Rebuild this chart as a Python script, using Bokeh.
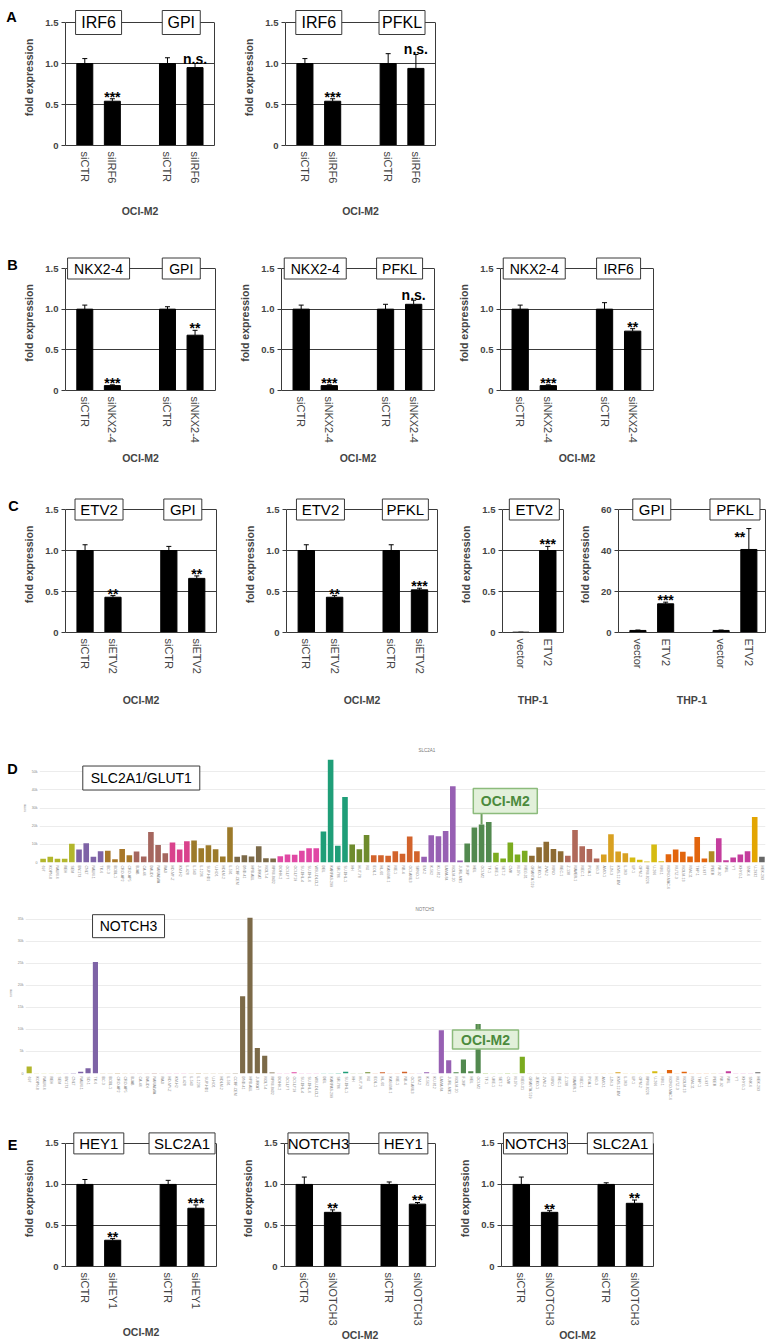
from bokeh.plotting import figure
from bokeh.layouts import row, column
from bokeh.models import (Range1d, FactorRange, FixedTicker, LinearAxis, ColumnDataSource,
                          Whisker, TeeHead, NumeralTickFormatter)
from bokeh.core.properties import value
from bokeh.embed import file_html
from bokeh.resources import INLINE

FONT = "Liberation Sans"

# ============================ DATA ============================
# Panel A (OCI-M2)
a1_labels = ["siCTR", "siIRF6", "siCTR", "siIRF6"]
a1_values = [1.00, 0.54, 1.00, 0.95]
a1_errors = [0.06, 0.03, 0.07, 0.05]
a1_signif = ["", "***", "", "n.s."]
a1_genes = ["IRF6", "GPI"]

a2_labels = ["siCTR", "siIRF6", "siCTR", "siIRF6"]
a2_values = [1.00, 0.54, 1.00, 0.94]
a2_errors = [0.06, 0.03, 0.12, 0.17]
a2_signif = ["", "***", "", "n.s."]
a2_genes = ["IRF6", "PFKL"]

# Panel B (OCI-M2)
b_labels = ["siCTR", "siNKX2-4", "siCTR", "siNKX2-4"]
b1_values = [1.00, 0.06, 1.00, 0.68]
b1_errors = [0.05, 0.01, 0.03, 0.06]
b1_signif = ["", "***", "", "**"]
b1_genes = ["NKX2-4", "GPI"]

b2_values = [1.00, 0.06, 1.00, 1.06]
b2_errors = [0.05, 0.01, 0.06, 0.05]
b2_signif = ["", "***", "", "n.s."]
b2_genes = ["NKX2-4", "PFKL"]

b3_values = [1.00, 0.06, 1.00, 0.73]
b3_errors = [0.05, 0.01, 0.08, 0.03]
b3_signif = ["", "***", "", "**"]
b3_genes = ["NKX2-4", "IRF6"]

# Panel C
c_labels = ["siCTR", "siETV2", "siCTR", "siETV2"]
c1_values = [1.00, 0.43, 1.00, 0.66]
c1_errors = [0.07, 0.02, 0.05, 0.03]
c1_signif = ["", "**", "", "**"]
c1_genes = ["ETV2", "GPI"]

c2_values = [1.00, 0.43, 1.00, 0.52]
c2_errors = [0.07, 0.02, 0.07, 0.02]
c2_signif = ["", "**", "", "***"]
c2_genes = ["ETV2", "PFKL"]

c3_labels = ["vector", "ETV2"]
c3_values = [0.004, 1.00]
c3_errors = [0.0, 0.05]
c3_signif = ["", "***"]
c3_genes = ["ETV2"]

c4_labels = ["vector", "ETV2", "vector", "ETV2"]
c4_values = [1.0, 14.0, 1.0, 40.5]
c4_errors = [0.2, 0.8, 0.2, 10.2]
c4_signif = ["", "***", "", "**"]
c4_genes = ["GPI", "PFKL"]

# Panel E (OCI-M2)
e1_labels = ["siCTR", "siHEY1", "siCTR", "siHEY1"]
e1_values = [1.00, 0.32, 1.00, 0.71]
e1_errors = [0.06, 0.02, 0.05, 0.04]
e1_signif = ["", "**", "", "***"]
e1_genes = ["HEY1", "SLC2A1"]

e_labels = ["siCTR", "siNOTCH3", "siCTR", "siNOTCH3"]
e2_values = [1.00, 0.66, 1.00, 0.76]
e2_errors = [0.09, 0.03, 0.03, 0.02]
e2_signif = ["", "**", "", "**"]
e2_genes = ["NOTCH3", "HEY1"]

e3_values = [1.00, 0.66, 1.00, 0.77]
e3_errors = [0.09, 0.02, 0.02, 0.04]
e3_signif = ["", "**", "", "**"]
e3_genes = ["NOTCH3", "SLC2A1"]

# Panel D: LL-100 expression (norm)
slc_lines = [
    "697", "KOPN-8", "NALM-6", "REH", "SEM",
    "BV-173", "CNLT", "NALM-1", "TK-6",
    "BC-3", "BCBL-1", "CRO-AP2", "CRO-AP5",
    "BJAB", "CA-46", "DAUDI", "NAMALWA", "RAJI",
    "HD-MY-Z", "KM-H2", "L-428",
    "L-540", "L-1236", "SUP-HD1", "U-HO1", "HDLM-2", "L-591",
    "CCRF-CEM", "DND-41", "HPB-ALL", "JURKAT", "MOLT-4", "RPMI-8402",
    "DOHH-2", "OCI-LY7", "OCI-LY19", "SU-DHL-4", "SU-DHL-6", "WSU-DLCL2",
    "DEL", "KARPAS-299", "SR-786", "SU-DHL-1",
    "HH", "HUT-78", "MJ",
    "EOL-1", "HL-60", "KASUMI-1", "ME-1", "NB-4", "OCI-AML3", "SKNO-1",
    "EM-2", "K-562", "KU-812", "LAMA-84", "MOLM-20", "JURL-MK1",
    "F-36P", "HEL", "OCI-M2", "TF-1",
    "UKE-1", "SET-2", "CMK", "M-07e", "MEG-01",
    "GRANTA-519", "JEKO-1", "JVM-2", "MINO", "REC-1",
    "Z-138", "MAVER-1", "MEC-1", "PGA-1", "HG-3",
    "AMO-1", "JJN-3", "KMS-12-BM", "L-363",
    "LP-1", "OPM-2", "RPMI-8226", "U-266", "MM-1",
    "MONO-MAC-6", "MUTZ-3", "MOLM-13", "MV4-11", "THP-1", "U-937",
    "PEER",
    "NK-92", "NKL", "YT", "KHYG-1", "SNK-6",
    "U-2932",
    "HEK-293",
]
slc_values = [
    2000, 3100, 2000, 2000, 10300,
    7100, 10600, 3100, 6200,
    6400, 1800, 7500, 4000,
    6000, 3300, 16800, 9700, 5100,
    11000, 7100, 11700,
    12100, 7900, 9500, 7300, 3300, 19400,
    3100, 4000, 3300, 9000, 2400, 2200,
    3500, 4400, 4200, 6400, 7900, 7900,
    17000, 56600, 9200, 36000,
    9900, 7300, 15200,
    4000, 4000, 3700, 6200, 4800, 14300, 6200,
    3100, 15000, 14500, 17400, 42000, 1100,
    10400, 19200, 20900, 22300,
    5300, 2200, 11000, 4400, 6400,
    3700, 8400, 11400, 7500, 6200,
    3700, 17900, 9000, 7500, 2200,
    4400, 15600, 6000, 5100,
    2700, 1500, 500, 9900, 700,
    4600, 7100, 5900, 3300, 14100, 2200,
    6200,
    13400, 1300, 2700, 4400, 6200,
    25100,
    3100,
]
slc_group_sizes = [5, 4, 4, 5, 3, 6, 6, 6, 4, 3, 7, 6, 4, 5, 5, 5, 4, 5, 6, 1, 5, 1, 1]

notch_lines = [
    "697", "KOPN-8", "NALM-6", "REH", "SEM",
    "BV-173", "CNLT", "NALM-1", "SD-1", "TK-6",
    "BC-3", "BCBL-1", "CRO-AP2", "CRO-AP5",
    "BJAB", "CA-46", "DAUDI", "NAMALWA", "RAJI",
    "HD-MY-Z", "KM-H2", "L-428",
    "L-540", "L-1236", "SUP-HD1", "U-HO1", "HDLM-2", "L-591",
    "CCRF-CEM", "DND-41", "HPB-ALL", "JURKAT", "MOLT-4", "RPMI-8402",
    "DOHH-2", "OCI-LY7", "OCI-LY19", "SU-DHL-4", "SU-DHL-6", "WSU-DLCL2",
    "DEL", "KARPAS-299", "SR-786", "SU-DHL-1",
    "HH", "HUT-78", "MJ",
    "EOL-1", "HL-60", "KASUMI-1", "ME-1", "NB-4", "OCI-AML3",
    "EM-2", "K-562", "KU-812", "LAMA-84", "JURL-MK1",
    "MOLM-20", "F-36P", "HEL", "OCI-M2",
    "TF-1", "UKE-1", "SET-2", "CMK", "M-07e", "MEG-01",
    "GRANTA-519", "JEKO-1", "JVM-2", "MINO", "REC-1",
    "Z-138", "MAVER-1", "MEC-1", "PGA-1", "HG-3",
    "AMO-1", "JJN-3", "KMS-12-BM", "L-363",
    "LP-1", "OPM-2", "RPMI-8226", "U-266", "MM-1",
    "MONO-MAC-6", "MUTZ-3", "MOLM-13", "MV4-11", "THP-1", "U-937",
    "PEER",
    "NK-92", "NKL", "YT", "KHYG-1", "SNK-6",
    "HEK-293",
]
notch_values = [
    1600, 60, 50, 60, 50,
    50, 100, 400, 1200, 25300,
    80, 60, 100, 50,
    60, 80, 50, 100, 60,
    50, 80, 60,
    50, 100, 60, 80, 50, 60,
    100, 17500, 35300, 5800, 4000, 200,
    60, 50, 300, 60, 80, 50,
    60, 50, 100, 400,
    60, 80, 300,
    60, 300, 50, 60, 400, 60,
    50, 300, 60, 9800, 3000,
    300, 3200, 500, 11200,
    100, 80, 60, 100, 80, 3800,
    60, 50, 80, 60, 100,
    60, 80, 50, 60, 80,
    60, 80, 300, 60,
    60, 80, 60, 500, 60,
    800, 60, 400, 60, 80, 60,
    80,
    60, 500, 80, 60, 60,
    300,
]
notch_group_sizes = [5, 5, 4, 5, 3, 6, 6, 6, 4, 3, 6, 5, 4, 6, 5, 5, 4, 5, 6, 1, 5, 1]

# ============================ STYLE ============================
slc_group_colors = ["#b2b62c", "#7e63a6", "#a8782a", "#a5665e", "#d9428c", "#9c7a2a",
                    "#7c6a48", "#e048a4", "#1f9e78", "#6e8b2d", "#d2632b", "#9760b3",
                    "#52894f", "#7bab1f", "#8d6b32", "#b0695a", "#d8a021", "#d6bb12",
                    "#e2650d", "#b08a22", "#c43d9d", "#e3a502", "#666666"]
notch_group_colors = ["#b2b62c", "#7e63a6", "#a8782a", "#a5665e", "#d9428c", "#9c7a2a",
                      "#7c6a48", "#e048a4", "#1f9e78", "#6e8b2d", "#d2632b", "#9760b3",
                      "#52894f", "#7bab1f", "#8d6b32", "#b0695a", "#d8a021", "#d6bb12",
                      "#e2650d", "#b08a22", "#c43d9d", "#666666"]

POS4 = [0.7, 1.7, 3.7, 4.7]
POS2 = [0.65, 1.6]
GROUPS4 = [[0, 1], [2, 3]]
GROUPS2 = [[0, 1]]
PX_PER_UNIT_X = 28.3
PAD = 13
LINE = "#3a3a3a"
YT15 = [0, 0.5, 1.0, 1.5]
YT15_TXT = ["0", "0.5", "1.0", "1.5"]
LETTER_W = 20


def expand(colors, sizes):
    out = []
    for c, n in zip(colors, sizes):
        out += [c] * n
    return out


def base_fig(W, H, xr, yr, L, R, T, B):
    return figure(width=W, height=H, x_range=xr, y_range=yr,
                  min_border_left=L, min_border_right=R, min_border_top=T,
                  min_border_bottom=B, output_backend="svg", toolbar_location=None,
                  tools="", outline_line_color=None, background_fill_color="white",
                  border_fill_color="white")


def letter_fig(txt, width, row_top, row_h, lx, ly):
    p = figure(width=width, height=row_h, x_range=Range1d(0, width),
               y_range=Range1d(0, row_h), min_border=0, output_backend="svg",
               toolbar_location=None, tools="", outline_line_color=None,
               x_axis_location=None, y_axis_location=None,
               background_fill_color="white", border_fill_color="white")
    p.grid.visible = False
    p.text(x=[lx], y=[row_h - (ly - row_top)], text=[txt], text_font=value(FONT),
           text_font_style="bold", text_font_size="14.5px", text_align="center",
           text_baseline="middle", text_color="black")
    return p


def bar_panel(labels, values, errors, signif, genes, xlabel, *, fig_left, fig_right,
              axis_x, frame_right, row_top, row_h, y_top, y_zero, yticks, ytext,
              positions, groups, box_w, box_h, gene_size, xlab_standoff,
              sig_override=None):
    W = fig_right - fig_left
    L = axis_x - fig_left
    fw = frame_right - axis_x
    R = W - L - fw
    span = y_zero - y_top
    ymax = yticks[-1]
    ppu = span / ymax
    fh = span + PAD
    T = y_top - PAD - row_top
    B = row_h - T - fh
    xr = fw / PX_PER_UNIT_X
    p = base_fig(W, row_h, Range1d(0, xr), Range1d(0, ymax + PAD / ppu), L, R, T, B)
    p.xgrid.visible = False
    p.ygrid.ticker = FixedTicker(ticks=[t for t in yticks if t > 0])
    p.ygrid.grid_line_color = LINE
    p.ygrid.grid_line_width = 1

    ya = p.yaxis[0]
    ya.ticker = FixedTicker(ticks=yticks)
    ya.bounds = (0, ymax)
    ya.major_label_overrides = {t: s for t, s in zip(yticks, ytext)}
    ya.major_tick_out = 4
    ya.major_tick_in = 0
    ya.minor_tick_line_color = None
    ya.axis_line_color = LINE
    ya.major_tick_line_color = LINE
    ya.major_label_text_font = FONT
    ya.major_label_text_font_style = "bold"
    ya.major_label_text_font_size = "9.5px"
    ya.major_label_standoff = 3
    ya.axis_label = "fold expression"
    ya.axis_label_text_font = FONT
    ya.axis_label_text_font_style = "bold"
    ya.axis_label_text_font_size = "10.5px"
    ya.axis_label_standoff = 7

    ra = LinearAxis(ticker=FixedTicker(ticks=[]), bounds=(0, ymax),
                    major_tick_line_color=None, minor_tick_line_color=None,
                    major_label_text_font_size="0px", axis_line_color=LINE,
                    major_tick_out=0, major_tick_in=0, major_label_standoff=0)
    p.add_layout(ra, "right")

    xa = p.xaxis[0]
    xa.ticker = FixedTicker(ticks=positions)
    xa.major_label_overrides = {x: s for x, s in zip(positions, labels)}
    xa.major_label_orientation = "vertical"
    xa.major_tick_line_color = None
    xa.major_tick_out = 0
    xa.major_tick_in = 0
    xa.minor_tick_line_color = None
    xa.axis_line_color = LINE
    xa.major_label_text_font = FONT
    xa.major_label_text_font_size = "11px"
    xa.major_label_standoff = 6
    xa.axis_label = xlabel
    xa.axis_label_text_font = FONT
    xa.axis_label_text_font_style = "bold"
    xa.axis_label_text_font_size = "10.5px"
    xa.axis_label_standoff = xlab_standoff

    upper = [v + e for v, e in zip(values, errors)]
    sig_y = list(upper)
    sig_dx = [0] * len(values)
    sig_dy = [-5 if s == "n.s." else -2 for s in signif]
    if sig_override:
        for i, (yy, dx) in sig_override.items():
            sig_y[i] = yy
            sig_dx[i] = dx
    src = ColumnDataSource(dict(x=positions, value=values, upper=upper, sig=signif,
                                sig_y=sig_y, sig_dx=sig_dx, sig_dy=sig_dy))
    p.vbar(x="x", top="value", width=0.58, source=src, fill_color="black", line_color="black")
    p.add_layout(Whisker(source=src, base="x", upper="upper", lower="value",
                         line_color="black", line_width=1,
                         upper_head=TeeHead(size=5, line_color="black", line_width=1),
                         lower_head=None))
    p.text(x="x", y="sig_y", text="sig", x_offset="sig_dx", y_offset="sig_dy", source=src,
           text_font=value(FONT), text_font_style="bold", text_font_size="14px",
           text_align="center", text_baseline="alphabetic", text_color="black")

    centers = [sum(positions[i] for i in g) / len(g) for g in groups]
    gy = [ymax] * len(genes)
    p.rect(x=centers, y=gy, width=box_w, height=box_h, width_units="screen",
           height_units="screen", fill_color="white", line_color=LINE, line_width=1)
    p.text(x=centers, y=gy, text=genes, text_font=value(FONT), text_font_size=gene_size,
           text_align="center", text_baseline="middle", text_color="black")
    return p


def expr_panel(names, vals, colors, *, title, title_offset, W, row_h, L, fw, T, fh, ymax,
               yticks, bar_w, gene_text, gene_box, oci):
    R = W - L - fw
    B = row_h - T - fh
    p = base_fig(W, row_h, FactorRange(*names), Range1d(0, ymax), L, R, T, B)
    p.title.text = title
    p.title.text_font = FONT
    p.title.text_font_size = "4.5px"
    p.title.text_font_style = "normal"
    p.title.text_color = "#777777"
    p.title.align = "left"
    p.title.offset = title_offset
    p.title.standoff = 2

    p.xgrid.visible = False
    p.ygrid.ticker = FixedTicker(ticks=yticks)
    p.ygrid.grid_line_color = "#ececec"

    ya = p.yaxis[0]
    ya.ticker = FixedTicker(ticks=yticks)
    ya.formatter = NumeralTickFormatter(format="0a")
    ya.axis_line_color = None
    ya.major_tick_line_color = None
    ya.minor_tick_line_color = None
    ya.major_tick_out = 0
    ya.major_tick_in = 0
    ya.major_label_text_font = FONT
    ya.major_label_text_font_size = "3.6px"
    ya.major_label_text_color = "#888888"
    ya.major_label_standoff = 2
    ya.axis_label = "norm"
    ya.axis_label_text_font = FONT
    ya.axis_label_text_font_size = "3.6px"
    ya.axis_label_text_font_style = "normal"
    ya.axis_label_text_color = "#888888"
    ya.axis_label_standoff = 2

    xa = p.xaxis[0]
    xa.axis_line_color = None
    xa.major_tick_line_color = None
    xa.minor_tick_line_color = None
    xa.major_tick_out = 0
    xa.major_tick_in = 0
    xa.major_label_orientation = "vertical"
    xa.major_label_text_font = FONT
    xa.major_label_text_font_size = "3.6px"
    xa.major_label_text_color = "#888888"
    xa.major_label_standoff = 3

    src = ColumnDataSource(dict(x=names, top=vals, color=colors))
    p.vbar(x="x", top="top", width=bar_w, source=src, fill_color="color", line_color=None)

    # cell-line callout
    oi = names.index("OCI-M2")
    ox = oi + 0.5
    obox_dx, obox_y, obox_w, obox_h = oci
    p.segment(x0=[ox], y0=[vals[oi]], x1=[ox], y1=[obox_y], line_color="#6e9e5e", line_width=2)
    p.rect(x=[ox + obox_dx], y=[obox_y], width=obox_w, height=obox_h, width_units="screen",
           height_units="screen", fill_color="#e2f0da", line_color="#8cbb7c", line_width=1.5)
    p.text(x=[ox + obox_dx], y=[obox_y], text=["OCI-M2"], text_font=value(FONT),
           text_font_style="bold", text_font_size="14px", text_color="#4b8a3d",
           text_align="center", text_baseline="middle")

    gx, gy, gw, gh = gene_box
    p.rect(x=[gx], y=[gy], width=gw, height=gh, width_units="screen", height_units="screen",
           fill_color="white", line_color=LINE, line_width=1)
    p.text(x=[gx], y=[gy], text=[gene_text], text_font=value(FONT), text_font_size="14px",
           text_align="center", text_baseline="middle", text_color="black")
    return p


# ============================ ROWS ============================
# Row A: page y 0-240
rA = dict(row_top=0, row_h=240, y_top=22, y_zero=145, yticks=YT15, ytext=YT15_TXT,
          positions=POS4, groups=GROUPS4, box_h=24, gene_size="16px", xlab_standoff=19)
la = letter_fig("A", LETTER_W, 0, 240, 11, 14)
a1 = bar_panel(a1_labels, a1_values, a1_errors, a1_signif, a1_genes, "OCI-M2",
               fig_left=LETTER_W, fig_right=240, axis_x=61, frame_right=214,
               box_w=[46, 38], **rA)
a2 = bar_panel(a2_labels, a2_values, a2_errors, a2_signif, a2_genes, "OCI-M2",
               fig_left=240, fig_right=774, axis_x=282, frame_right=435, box_w=[46, 46], **rA)

# Row B: page y 240-485
rB = dict(row_top=240, row_h=245, y_top=268, y_zero=390, yticks=YT15, ytext=YT15_TXT,
          positions=POS4, groups=GROUPS4, box_h=21, gene_size="14px", xlab_standoff=6)
lb = letter_fig("B", LETTER_W, 240, 245, 12, 258)
b1 = bar_panel(b_labels, b1_values, b1_errors, b1_signif, b1_genes, "OCI-M2",
               fig_left=LETTER_W, fig_right=236, axis_x=61, frame_right=215,
               box_w=[62, 38], **rB)
b2 = bar_panel(b_labels, b2_values, b2_errors, b2_signif, b2_genes, "OCI-M2",
               fig_left=236, fig_right=455, axis_x=280, frame_right=434, box_w=[62, 46], **rB)
b3 = bar_panel(b_labels, b3_values, b3_errors, b3_signif, b3_genes, "OCI-M2",
               fig_left=455, fig_right=774, axis_x=499, frame_right=653, box_w=[62, 44], **rB)

# Row C: page y 485-735
rC = dict(row_top=485, row_h=250, y_top=509, y_zero=632, box_h=21, gene_size="15px")
lc = letter_fig("C", LETTER_W, 485, 250, 13, 502)
c1 = bar_panel(c_labels, c1_values, c1_errors, c1_signif, c1_genes, "OCI-M2",
               fig_left=LETTER_W, fig_right=238, axis_x=63, frame_right=216, yticks=YT15,
               ytext=YT15_TXT, positions=POS4, groups=GROUPS4, box_w=[48, 38],
               xlab_standoff=17, **rC)
c2 = bar_panel(c_labels, c2_values, c2_errors, c2_signif, c2_genes, "OCI-M2",
               fig_left=238, fig_right=455, axis_x=286, frame_right=437, yticks=YT15,
               ytext=YT15_TXT, positions=POS4, groups=GROUPS4, box_w=[48, 46],
               xlab_standoff=17, **rC)
c3 = bar_panel(c3_labels, c3_values, c3_errors, c3_signif, c3_genes, "THP-1",
               fig_left=455, fig_right=575, axis_x=502, frame_right=563, yticks=YT15,
               ytext=YT15_TXT, positions=POS2, groups=GROUPS2, box_w=[50],
               xlab_standoff=23, **rC)
c4 = bar_panel(c4_labels, c4_values, c4_errors, c4_signif, c4_genes, "THP-1",
               fig_left=575, fig_right=774, axis_x=615, frame_right=765,
               yticks=[0, 20, 40, 60], ytext=["0", "20", "40", "60"], positions=POS4,
               groups=GROUPS4, box_w=[38, 50], xlab_standoff=23,
               sig_override={3: (45.5, -9)}, **rC)

# Row D1: page y 735-893 ; Row D2: page y 893-1110
ld = letter_fig("D", 19, 735, 158, 12, 757)
d1 = expr_panel(slc_lines, slc_values, expand(slc_group_colors, slc_group_sizes),
                title="SLC2A1", title_offset=379, W=774 - 19, row_h=158, L=34 - 19,
                fw=731, T=18, fh=109, ymax=60000,
                yticks=[0, 10000, 20000, 30000, 40000, 50000], bar_w=0.78,
                gene_text="SLC2A1/GLUT1", gene_box=(14.16, 46500, 117, 24),
                oci=(3.3, 33850, 64, 25))
d2 = expr_panel(notch_lines, notch_values, expand(notch_group_colors, notch_group_sizes),
                title="NOTCH3", title_offset=390, W=774, row_h=217, L=25, fw=736, T=19,
                fh=161, ymax=36500,
                yticks=[0, 5000, 10000, 15000, 20000, 25000, 30000, 35000], bar_w=0.7,
                gene_text="NOTCH3", gene_box=(14.0, 33400, 72, 23),
                oci=(1.0, 7700, 66, 19))

# Row E: page y 1110-1343
rE = dict(row_top=1110, row_h=233, y_top=1143, y_zero=1267, yticks=YT15, ytext=YT15_TXT,
          positions=POS4, groups=GROUPS4, box_h=21, gene_size="15px")
le = letter_fig("E", LETTER_W, 1110, 233, 12, 1135)
e1 = bar_panel(e1_labels, e1_values, e1_errors, e1_signif, e1_genes, "OCI-M2",
               fig_left=LETTER_W, fig_right=238, axis_x=62, frame_right=216,
               box_w=[50, 66], xlab_standoff=14, **rE)
e2 = bar_panel(e_labels, e2_values, e2_errors, e2_signif, e2_genes, "OCI-M2",
               fig_left=238, fig_right=455, axis_x=284, frame_right=435, box_w=[61, 49],
               xlab_standoff=0, **rE)
e3 = bar_panel(e_labels, e3_values, e3_errors, e3_signif, e3_genes, "OCI-M2",
               fig_left=455, fig_right=774, axis_x=501, frame_right=653, box_w=[64, 66],
               xlab_standoff=0, **rE)

layout = column(row(la, a1, a2), row(lb, b1, b2, b3), row(lc, c1, c2, c3, c4),
                row(ld, d1), d2, row(le, e1, e2, e3))

with open("out.html", "w") as f:
    f.write(file_html(layout, INLINE))
